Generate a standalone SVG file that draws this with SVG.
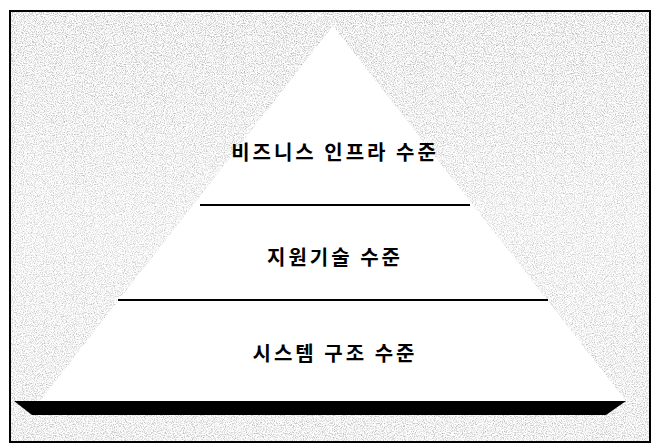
<svg xmlns="http://www.w3.org/2000/svg" width="656" height="446" viewBox="0 0 656 446">
<defs>
<filter id="noise" x="0" y="0" width="100%" height="100%">
<feTurbulence type="fractalNoise" baseFrequency="0.9" numOctaves="2" seed="3" result="n"/>
<feColorMatrix in="n" type="matrix" values="0 0 0 0 0  0 0 0 0 0  0 0 0 0 0  0 0 0 -2.4 1.4" result="a"/>
<feComposite in="SourceGraphic" in2="a" operator="in"/>
</filter>
<linearGradient id="bg" x1="0" y1="0" x2="0" y2="1">
<stop offset="0" stop-color="#b0b0b0"/>
<stop offset="0.5" stop-color="#c8c8c8"/>
<stop offset="1" stop-color="#b8b8b8"/>
</linearGradient>
<style>
.lbl{font-family:"Noto Sans CJK KR","Noto Sans",sans-serif;font-size:20px;font-weight:700;fill:#000;letter-spacing:3px;text-anchor:middle}
.sep{stroke:#000;stroke-width:2}
</style>
</defs>
<rect x="0" y="0" width="656" height="446" fill="#fff"/>
<g id="background">
<rect x="10" y="11" width="640" height="431" fill="url(#bg)" filter="url(#noise)"/>
<rect x="10" y="11" width="640" height="431" fill="none" stroke="#000" stroke-width="2"/>
</g>
<g id="pyramid">
<polygon points="333,26 40,401 626,401" fill="#fff"/>
</g>
<g id="connectors">
<line class="sep" x1="200" y1="205" x2="470" y2="205"/>
<line class="sep" x1="118" y1="300" x2="548" y2="300"/>
</g>
<g id="base">
<polygon points="14,401 626,401 606,415 32,415" fill="#000"/>
</g>
<g id="level1"><text class="lbl" x="335" y="160">비즈니스 인프라 수준</text></g>
<g id="level2"><text class="lbl" x="335" y="265">지원기술 수준</text></g>
<g id="level3"><text class="lbl" x="335" y="361">시스템 구조 수준</text></g>
</svg>
